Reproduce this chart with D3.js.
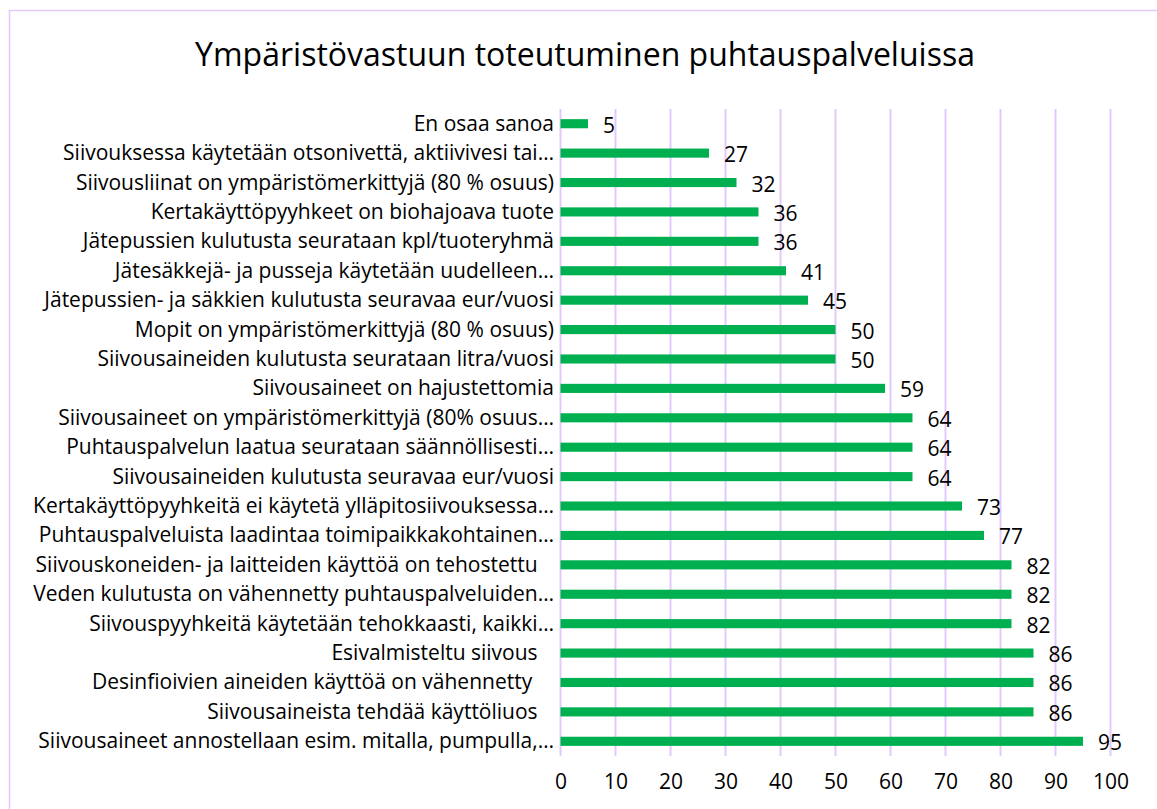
<!DOCTYPE html>
<html>
<head>
<meta charset="utf-8">
<script src="https://cdn.jsdelivr.net/npm/d3@7"></script>
<style>
  body { margin: 0; background: #fff; }
  text { font-family: "Open Sans", sans-serif; }
</style>
</head>
<body>
<svg id="chart" width="1157" height="809"></svg>
<script>
const title = "Ympäristövastuun toteutuminen puhtauspalveluissa";

const categories = [
  "En osaa sanoa",
  "Siivouksessa käytetään otsonivettä, aktiivivesi tai…",
  "Siivousliinat on ympäristömerkittyjä (80 % osuus)",
  "Kertakäyttöpyyhkeet on biohajoava tuote",
  "Jätepussien kulutusta seurataan kpl/tuoteryhmä",
  "Jätesäkkejä- ja pusseja käytetään uudelleen…",
  "Jätepussien- ja säkkien kulutusta seuravaa eur/vuosi",
  "Mopit on ympäristömerkittyjä (80 % osuus)",
  "Siivousaineiden kulutusta seurataan litra/vuosi",
  "Siivousaineet on hajustettomia",
  "Siivousaineet on ympäristömerkittyjä (80% osuus…",
  "Puhtauspalvelun laatua seurataan säännöllisesti…",
  "Siivousaineiden kulutusta seuravaa eur/vuosi",
  "Kertakäyttöpyyhkeitä ei käytetä ylläpitosiivouksessa…",
  "Puhtauspalveluista laadintaa toimipaikkakohtainen…",
  "Siivouskoneiden- ja laitteiden käyttöä on tehostettu   ",
  "Veden kulutusta on vähennetty puhtauspalveluiden…",
  "Siivouspyyhkeitä käytetään tehokkaasti, kaikki…",
  "Esivalmisteltu siivous   ",
  "Desinfioivien aineiden käyttöä on vähennetty    ",
  "Siivousaineista tehdää käyttöliuos   ",
  "Siivousaineet annostellaan esim. mitalla, pumpulla,…"
];

const values = [5, 27, 32, 36, 36, 41, 45, 50, 50, 59, 64, 64, 64, 73, 77, 82, 82, 82, 86, 86, 86, 95];

const xTicks = [0, 10, 20, 30, 40, 50, 60, 70, 80, 90, 100];

const svg = d3.select("#chart");
const gridColor = "#e3c9fb";
const barColor = "#00b050";

// chart frame
svg.append("rect")
  .attr("x", 9.5)
  .attr("y", 10.5)
  .attr("width", 1160)
  .attr("height", 820)
  .attr("fill", "#fff")
  .attr("stroke", gridColor)
  .attr("stroke-width", 1.5);

svg.append("text")
  .attr("x", 585)
  .attr("y", 66)
  .attr("text-anchor", "middle")
  .attr("font-size", "32px")
  .attr("fill", "#000")
  .text(title);

const x = d3.scaleLinear().domain([0, 100]).range([560.5, 1110.5]);
const y = d3.scaleBand().domain(categories).range([109, 756]).paddingInner(0.69).paddingOuter(0.345);
const mid = c => y(c) + y.bandwidth() / 2;

// vertical gridlines
svg.append("g")
  .selectAll("line")
  .data(xTicks)
  .join("line")
  .attr("x1", d => x(d))
  .attr("x2", d => x(d))
  .attr("y1", 109)
  .attr("y2", 756)
  .attr("stroke", gridColor)
  .attr("stroke-width", 2);

// bars
svg.append("g")
  .selectAll("rect")
  .data(values)
  .join("rect")
  .attr("x", x(0))
  .attr("y", (d, i) => y(categories[i]))
  .attr("width", d => x(d) - x(0))
  .attr("height", y.bandwidth())
  .attr("fill", barColor);

// value labels
svg.append("g")
  .selectAll("text")
  .data(values)
  .join("text")
  .attr("x", d => x(d) + 15)
  .attr("y", (d, i) => mid(categories[i]) + 9)
  .attr("font-size", "21px")
  .attr("fill", "#000")
  .text(d => d);

// category labels
svg.append("g")
  .selectAll("text")
  .data(categories)
  .join("text")
  .attr("x", 554)
  .attr("y", d => mid(d) + 7)
  .attr("text-anchor", "end")
  .attr("font-size", "21px")
  .attr("fill", "#000")
  .style("white-space", "pre")
  .text(d => d);

// x axis
const xAxis = d3.axisBottom(x).tickValues(xTicks).tickSize(0).tickPadding(0);
const axisG = svg.append("g")
  .attr("transform", "translate(0,774)")
  .call(xAxis);
axisG.select(".domain").remove();
axisG.selectAll("text")
  .attr("font-family", "'Open Sans', sans-serif")
  .attr("font-size", "21px")
  .attr("fill", "#000");
</script>
</body>
</html>
